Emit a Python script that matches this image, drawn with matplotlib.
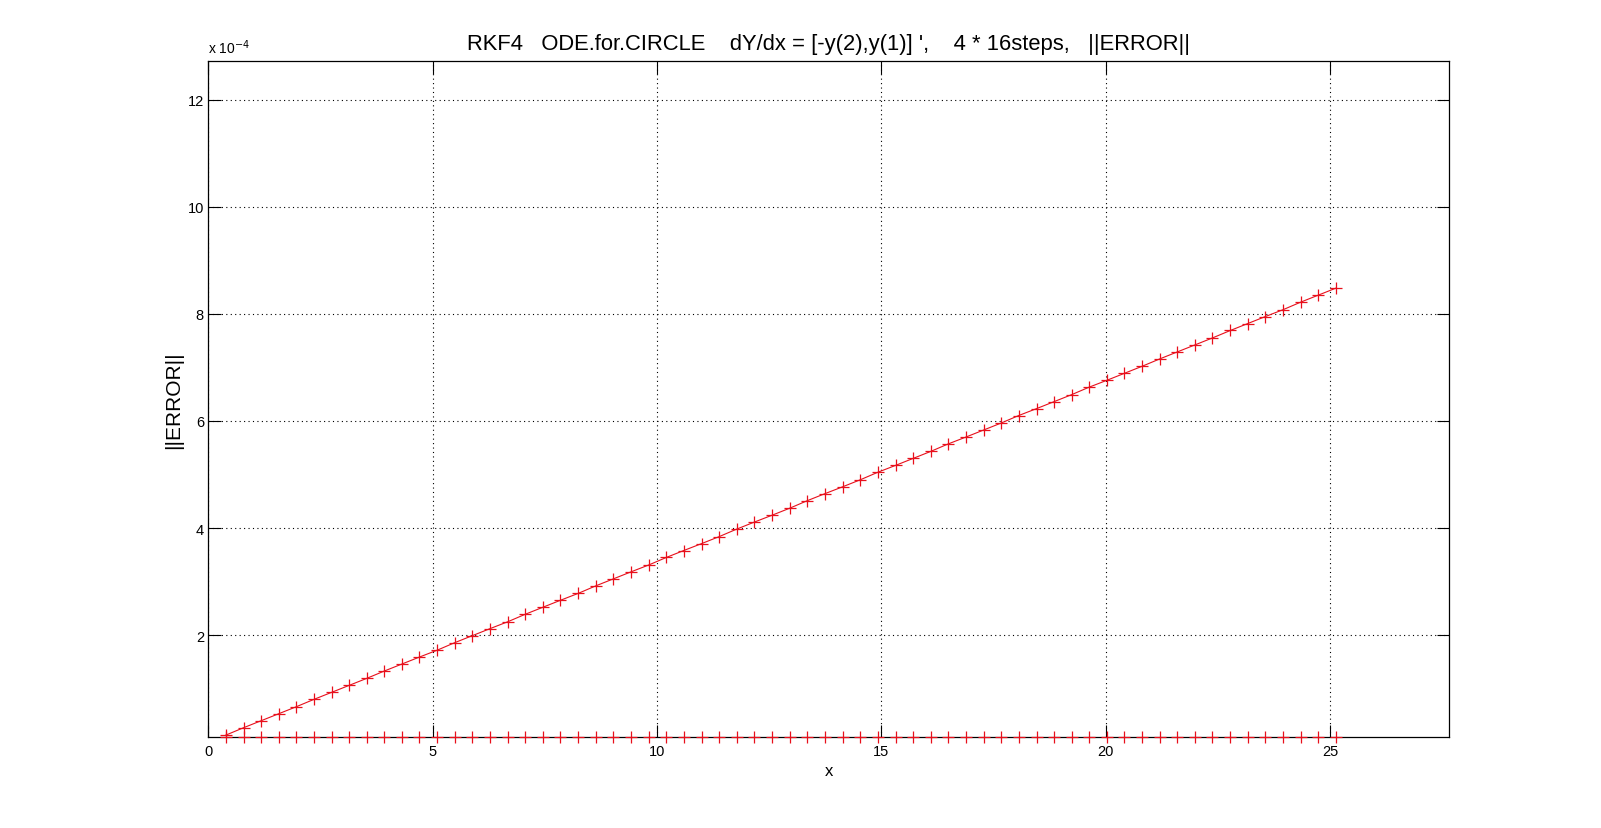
import numpy as np
import matplotlib
matplotlib.use("Agg")
import matplotlib.pyplot as plt

plt.rcParams['font.family'] = ['Liberation Sans', 'DejaVu Sans']

# step positions (x) for 4*16 steps
x_steps = [0.39, 0.79, 1.18, 1.57, 1.96, 2.36, 2.75, 3.14, 3.53, 3.93,
           4.32, 4.71, 5.11, 5.50, 5.89, 6.28, 6.68, 7.07, 7.46, 7.85,
           8.25, 8.64, 9.03, 9.42, 9.82, 10.21, 10.60, 11.00, 11.39, 11.78,
           12.17, 12.57, 12.96, 13.35, 13.74, 14.14, 14.53, 14.92, 15.32, 15.71,
           16.10, 16.49, 16.89, 17.28, 17.67, 18.06, 18.46, 18.85, 19.24, 19.63,
           20.03, 20.42, 20.81, 21.21, 21.60, 21.99, 22.38, 22.78, 23.17, 23.56,
           23.96, 24.35, 24.74, 25.13]

# ||ERROR|| in units of 1e-4
err_global = [0.13, 0.27, 0.40, 0.53, 0.66, 0.80, 0.93, 1.06, 1.19, 1.33,
              1.46, 1.59, 1.72, 1.86, 1.99, 2.12, 2.25, 2.39, 2.52, 2.65,
              2.78, 2.92, 3.05, 3.18, 3.31, 3.45, 3.58, 3.71, 3.84, 3.98,
              4.11, 4.24, 4.37, 4.51, 4.64, 4.77, 4.90, 5.04, 5.17, 5.30,
              5.43, 5.57, 5.70, 5.83, 5.96, 6.10, 6.23, 6.36, 6.49, 6.63,
              6.76, 6.89, 7.02, 7.16, 7.29, 7.42, 7.55, 7.69, 7.82, 7.95,
              8.08, 8.22, 8.35, 8.48]

# local error per step (near the bottom of the axis), units of 1e-4
err_local = [0.10] * 64

x_ticks = [0, 5, 10, 15, 20, 25]
y_ticks = [2, 4, 6, 8, 10, 12]
x_lim = (0, 27.65)
y_lim = (0.10, 12.72)

fig = plt.figure(figsize=(16.01, 8.29), dpi=100)
ax = fig.add_axes([0.13, 0.11, 0.775, 0.815])

ax.plot(x_steps, err_global, color='#e8101c', linestyle='-', linewidth=0.8,
        marker='+', markersize=9, markeredgewidth=0.9, zorder=3)
ax.plot(x_steps, err_local, color='#e8101c', linestyle='none',
        marker='+', markersize=9, markeredgewidth=0.9, zorder=3, clip_on=False)

ax.set_xlim(*x_lim)
ax.set_ylim(*y_lim)
ax.set_xticks(x_ticks)
ax.set_yticks(y_ticks)
ax.set_xticklabels([str(v) for v in x_ticks])
ax.set_yticklabels([str(v) for v in y_ticks])

ax.grid(True, color='black', linestyle=(0, (1, 3)), linewidth=0.8)
ax.tick_params(direction='in', length=9, width=0.8, top=True, right=True,
               labelsize=10.5, pad=5, colors='black')
ax.tick_params(axis='y', pad=3)
for s in ax.spines.values():
    s.set_linewidth(0.9)
    s.set_color('black')

ax.set_title("RKF4   ODE.for.CIRCLE    dY/dx = [-y(2),y(1)] ',    4 * 16steps,   ||ERROR||",
             fontsize=15.8, pad=9)
ax.set_xlabel('x', fontsize=12, labelpad=4)
ax.set_ylabel('||ERROR||', fontsize=15, labelpad=3)
ax.text(0.0, 1.008, r'x 10$^{-4}$', transform=ax.transAxes, fontsize=10,
        ha='left', va='bottom')

fig.savefig('out.png', dpi=100, facecolor='white')
